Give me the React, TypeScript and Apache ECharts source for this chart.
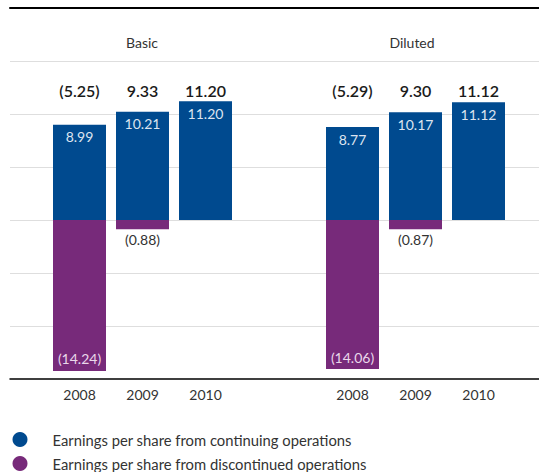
import React, { useEffect, useRef } from "react";
import * as echarts from "echarts";

const years = ["2008", "2009", "2010"];
const groups = ["Basic", "Diluted"];
const seriesNames = [
  "Earnings per share from continuing operations",
  "Earnings per share from discontinued operations",
];
const basicContinuing = [8.99, 10.21, 11.2];
const basicDiscontinued: (number | null)[] = [-14.24, -0.88, null];
const basicTotal = [-5.25, 9.33, 11.2];
const dilutedContinuing = [8.77, 10.17, 11.12];
const dilutedDiscontinued: (number | null)[] = [-14.06, -0.87, null];
const dilutedTotal = [-5.29, 9.3, 11.12];

const BLUE = "#004a8f";
const PURPLE = "#772a7a";
const FONT = "Lato";

const fmt = (v: number) => (v < 0 ? `(${Math.abs(v).toFixed(2)})` : v.toFixed(2));

export default function App() {
  const ref = useRef<HTMLDivElement>(null);
  useEffect(() => {
    if (!ref.current) return;
    const chart = echarts.init(ref.current, undefined, { renderer: "svg" });

    const groupData = [
      { name: groups[0], cont: basicContinuing, disc: basicDiscontinued, total: basicTotal, left: 48, center: 142 },
      { name: groups[1], cont: dilutedContinuing, disc: dilutedDiscontinued, total: dilutedTotal, left: 321, center: 412 },
    ];

    const gridBase = { top: 8, bottom: 93, outerBoundsMode: "none", containLabel: false };
    const grids: any[] = [{ ...gridBase, left: 10, right: 0 }];
    const xAxes: any[] = [
      {
        type: "category", gridIndex: 0, data: [""], position: "bottom",
        axisLine: { onZero: false, lineStyle: { color: "#000", width: 1.5 } },
        axisTick: { show: false }, axisLabel: { show: false },
      },
      {
        type: "category", gridIndex: 0, data: [""], position: "top",
        axisLine: { onZero: false, lineStyle: { color: "#000", width: 2 } },
        axisTick: { show: false }, axisLabel: { show: false },
      },
    ];
    const yAxes: any[] = [
      {
        type: "value", gridIndex: 0, min: -15, max: 20, interval: 5,
        axisLine: { show: false }, axisTick: { show: false }, axisLabel: { show: false },
        splitLine: { lineStyle: { color: "#dedede", width: 1 }, showMinLine: false, showMaxLine: false },
      },
    ];
    const series: any[] = [];
    const titles: any[] = [];

    groupData.forEach((g, i) => {
      const gi = i + 1;
      grids.push({ ...gridBase, left: g.left, width: 189 });
      titles.push({
        text: g.name, left: g.center, top: 35, padding: 0, textAlign: "center",
        textStyle: { color: "#333", fontSize: 14, fontWeight: "normal", fontFamily: FONT },
      });
      const xb = xAxes.length;
      xAxes.push({
        type: "category", gridIndex: gi, data: years, position: "bottom",
        axisLine: { show: false, onZero: false }, axisTick: { show: false },
        axisLabel: { color: "#333", fontSize: 14, margin: 8, fontFamily: FONT },
      });
      xAxes.push({
        type: "category", gridIndex: gi, data: g.total.map(fmt), position: "top",
        axisLine: { show: false, onZero: false }, axisTick: { show: false },
        axisLabel: { inside: true, margin: 74, color: "#1a1a1a", fontSize: 16, fontWeight: 600, fontFamily: FONT },
      });
      const yi = yAxes.length;
      yAxes.push({ type: "value", gridIndex: gi, min: -15, max: 20, interval: 5, show: false });

      series.push({
        name: seriesNames[0], type: "bar", stack: "s" + gi, xAxisIndex: xb, yAxisIndex: yi,
        barWidth: 53, itemStyle: { color: BLUE },
        label: {
          show: true, position: "insideTop", distance: 5, color: "#dde4f0",
          fontSize: 14, fontFamily: FONT, formatter: (p: any) => fmt(p.value),
        },
        data: g.cont,
      });
      series.push({
        name: seriesNames[1], type: "bar", stack: "s" + gi, xAxisIndex: xb, yAxisIndex: yi,
        barWidth: 53, itemStyle: { color: PURPLE },
        data: g.disc.map((v) => {
          if (v === null) return "-";
          const small = Math.abs(v) < 3;
          return {
            value: v,
            label: {
              show: true,
              position: small ? "bottom" : "insideBottom",
              distance: small ? 3 : 5,
              color: small ? "#333" : "#ead8ea",
              fontSize: 14, fontFamily: FONT,
              formatter: (p: any) => fmt(p.value),
            },
          };
        }),
      });
    });

    chart.setOption({
      animation: false,
      textStyle: { fontFamily: FONT },
      title: titles,
      grid: grids,
      xAxis: xAxes,
      yAxis: yAxes,
      legend: {
        data: seriesNames, orient: "vertical", left: 12.5, top: 432, height: 60, padding: 0,
        icon: "circle", itemWidth: 15, itemHeight: 15, itemGap: 9,
        selectedMode: false,
        textStyle: { fontSize: 14.8, color: "#333", fontFamily: FONT, padding: [0, 0, 0, 20] },
      },
      series,
    });
    return () => chart.dispose();
  }, []);
  return (
    <div
      ref={ref}
      style={{ position: "fixed", left: 0, top: 0, width: 539, height: 472, background: "#fff" }}
    />
  );
}
